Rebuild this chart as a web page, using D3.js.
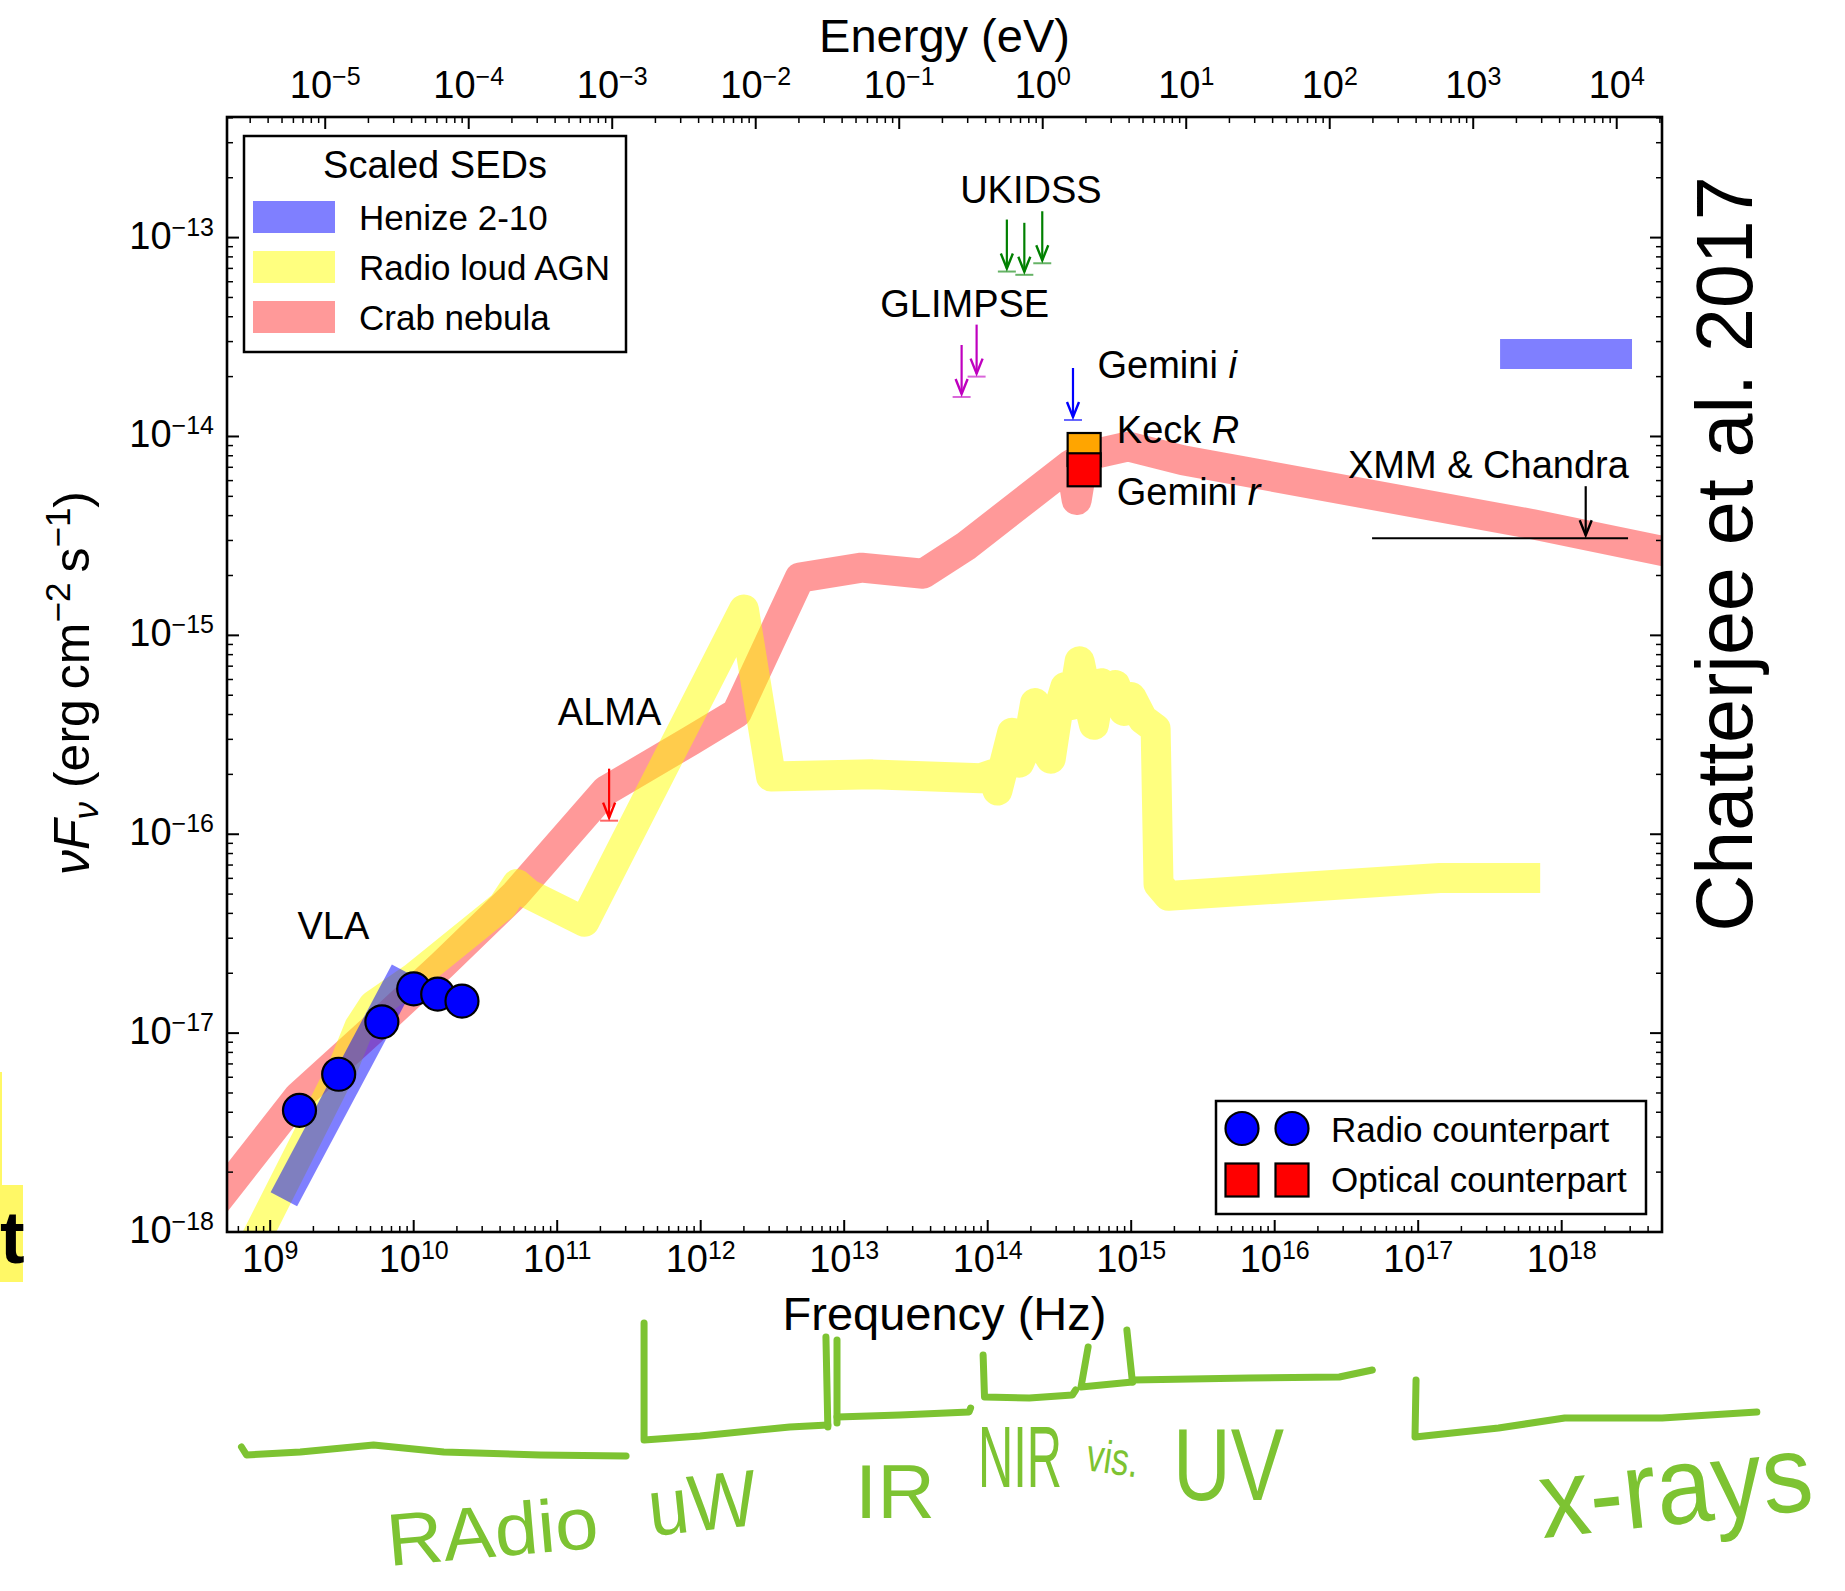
<!DOCTYPE html>
<html>
<head>
<meta charset="utf-8">
<script src="https://cdn.jsdelivr.net/npm/d3@7"></script>
<style>
  body { margin: 0; background: #fff; }
  svg { display: block; }
  text { font-family: "Liberation Sans", Arial, Helvetica, sans-serif; }
</style>
</head>
<body>
<svg id="chart" width="1845" height="1591"></svg>
<script>
// ---------- axis ranges ----------
const nuMin = 5e8, nuMax = 5e18;          // Hz
const fMin = 1e-18, fMax = 4.04e-13;      // erg cm^-2 s^-1
const PLANCK_EV = 4.135667e-15;           // eV s

// ---------- scaled SED templates ----------
const crabNu = [3.98e8, 1.58e9, 5.01e9, 1.58e10, 5.13e10, 2.19e11, 8.51e11, 1.78e12, 4.90e12,
                1.32e13, 3.55e13, 7.08e13, 3.80e14, 4.17e14, 4.68e14, 9.55e14, 2.29e15, 6.17e17, 6.31e18];
const crabF  = [1.35e-18, 4.80e-18, 1.02e-17, 2.20e-17, 5.01e-17, 1.66e-16, 2.95e-16, 4.07e-16, 1.95e-15,
                2.19e-15, 2.04e-15, 2.82e-15, 7.24e-15, 4.79e-15, 7.94e-15, 8.91e-15, 7.59e-15, 3.63e-15, 2.57e-15];

const agnNu = [5.62e8, 3.31e9, 4.17e9, 5.25e9, 1.0e10, 4.17e10, 5.25e10, 6.31e10, 1.55e11, 2.0e12,
               3.09e12, 1.58e13, 8.91e13, 1.07e14, 1.17e14, 1.29e14, 1.48e14, 1.66e14, 1.91e14, 2.14e14,
               2.40e14, 2.75e14, 3.09e14, 3.47e14, 3.89e14, 4.37e14, 4.90e14, 5.50e14, 6.17e14, 7.08e14,
               7.76e14, 8.91e14, 1.0e15, 1.20e15, 1.48e15, 1.55e15, 1.82e15, 1.41e17, 7.08e17];
const agnF  = [5.62e-19, 7.08e-18, 1.07e-17, 1.38e-17, 1.90e-17, 4.37e-17, 5.62e-17, 5.01e-17, 3.63e-17, 1.35e-15,
               1.95e-16, 2.00e-16, 1.91e-16, 2.00e-16, 1.66e-16, 2.19e-16, 3.24e-16, 2.29e-16, 2.88e-16, 4.57e-16,
               2.82e-16, 2.40e-16, 4.17e-16, 5.50e-16, 4.47e-16, 7.41e-16, 5.01e-16, 3.55e-16, 5.75e-16, 4.68e-16,
               5.62e-16, 4.17e-16, 4.90e-16, 3.80e-16, 3.39e-16, 5.62e-17, 4.90e-17, 6.03e-17, 6.03e-17];

const henizeRadioNu = [1.245e9, 8.71e9];
const henizeRadioF  = [1.46e-18, 2.04e-17];
const henizeXrayNu  = [3.72e17, 3.09e18];
const henizeXrayF   = [2.60e-14, 2.60e-14];

// ---------- counterpart detections ----------
const vlaNu = [1.6e9, 3.0e9, 6.0e9, 1.0e10, 1.47e10, 2.17e10];
const vlaF  = [4.09e-18, 6.21e-18, 1.14e-17, 1.67e-17, 1.57e-17, 1.45e-17];

const opticalBands  = ["Keck R", "Gemini r"];
const opticalNu     = [4.70e14, 4.70e14];
const opticalF      = [8.6e-15, 6.8e-15];
const opticalColors = ["#ffa500", "#ff0000"];

// ---------- upper limits ----------
const limitSurvey = ["ALMA", "GLIMPSE", "GLIMPSE", "UKIDSS", "UKIDSS", "UKIDSS", "Gemini i"];
const limitNu     = [2.30e11, 6.58e13, 8.37e13, 1.36e14, 1.80e14, 2.40e14, 3.93e14];
const limitF      = [1.17e-16, 1.58e-14, 2.0e-14, 6.75e-14, 6.5e-14, 7.43e-14, 1.21e-14];
const limitColor  = {"ALMA": "#ff0000", "GLIMPSE": "#bf00bf", "UKIDSS": "#008000", "Gemini i": "#0000ff"};

const xrayBandNu   = [4.77e16, 2.9e18];
const xrayLimitNu  = 1.47e18;
const xrayLimitF   = 3.08e-15;

// ---------- ticks ----------
const freqTickExp   = [9, 10, 11, 12, 13, 14, 15, 16, 17, 18];
const energyTickExp = [-5, -4, -3, -2, -1, 0, 1, 2, 3, 4];
const fluxTickExp   = [-18, -17, -16, -15, -14, -13];

// ---------- text annotations (anchored in data space) ----------
const notes = [
  {t: "UKIDSS",  nu: 2.0e14,  f: 1.50e-13, anchor: "middle"},
  {t: "GLIMPSE", nu: 6.92e13, f: 3.98e-14, anchor: "middle"},
  {t: "Gemini ", it: "i", nu: 5.82e14, f: 1.96e-14, anchor: "start"},
  {t: "Keck ",   it: "R", nu: 7.94e14, f: 9.25e-15, anchor: "start"},
  {t: "Gemini ", it: "r", nu: 7.94e14, f: 4.52e-15, anchor: "start"},
  {t: "XMM & Chandra", nu: 3.24e16, f: 6.17e-15, anchor: "start"},
  {t: "ALMA",    nu: 1.01e11, f: 3.54e-16, anchor: "start"},
  {t: "VLA",     nu: 1.55e9,  f: 2.99e-17, anchor: "start"}
];

// ---------- layout ----------
const L = 227, R = 1662, T = 117, B = 1232;
const svg = d3.select("#chart");
const x  = d3.scaleLog().domain([nuMin, nuMax]).range([L, R]);
const xE = d3.scaleLog().domain([nuMin * PLANCK_EV, nuMax * PLANCK_EV]).range([L, R]);
const y  = d3.scaleLog().domain([fMin, fMax]).range([B, T]);

svg.append("defs").append("clipPath").attr("id", "plotClip")
  .append("rect").attr("x", L).attr("y", T).attr("width", R - L).attr("height", B - T);

const plot = svg.append("g").attr("clip-path", "url(#plotClip)");
const zip = (a, b) => a.map((v, i) => [v, b[i]]);
const line = d3.line().x(d => x(d[0])).y(d => y(d[1]));

function band(nu, f, color, opacity) {
  plot.append("path")
    .attr("d", line(zip(nu, f)))
    .attr("fill", "none")
    .attr("stroke", color)
    .attr("stroke-opacity", opacity)
    .attr("stroke-width", 30)
    .attr("stroke-linejoin", "round")
    .attr("stroke-linecap", "butt");
}
band(crabNu, crabF, "#ff0000", 0.4);
band(agnNu, agnF, "#ffff00", 0.5);
band(henizeRadioNu, henizeRadioF, "#0000ff", 0.5);
band(henizeXrayNu, henizeXrayF, "#0000ff", 0.5);

// ---------- upper-limit arrows ----------
function downArrow(g, px, py, color) {
  g.append("line").attr("x1", px).attr("x2", px).attr("y1", py - 52).attr("y2", py - 3)
    .attr("stroke", color).attr("stroke-width", 2.2);
  g.append("path").attr("d", `M${px - 6},${py - 18}L${px},${py - 3}L${px + 6},${py - 18}`)
    .attr("fill", "none").attr("stroke", color).attr("stroke-width", 2.4).attr("stroke-linejoin", "miter");
}
const limits = svg.append("g");
limitNu.forEach((nu, i) => {
  const c = limitColor[limitSurvey[i]];
  const px = x(nu), py = y(limitF[i]);
  limits.append("line").attr("x1", px - 9).attr("x2", px + 9).attr("y1", py).attr("y2", py)
    .attr("stroke", c).attr("stroke-opacity", 0.6).attr("stroke-width", 2);
  downArrow(limits, px, py, c);
});
limits.append("line")
  .attr("x1", x(xrayBandNu[0])).attr("x2", x(xrayBandNu[1]))
  .attr("y1", y(xrayLimitF)).attr("y2", y(xrayLimitF))
  .attr("stroke", "#000").attr("stroke-width", 2);
downArrow(limits, x(xrayLimitNu), y(xrayLimitF), "#000");

// ---------- detections ----------
const SQ = 33;
svg.append("g").selectAll("rect").data(opticalNu).join("rect")
  .attr("x", d => x(d) - SQ / 2)
  .attr("y", (d, i) => y(opticalF[i]) - SQ / 2)
  .attr("width", SQ).attr("height", SQ)
  .attr("fill", (d, i) => opticalColors[i])
  .attr("stroke", "#000").attr("stroke-width", 2.2);

svg.append("g").selectAll("circle").data(vlaNu).join("circle")
  .attr("cx", d => x(d))
  .attr("cy", (d, i) => y(vlaF[i]))
  .attr("r", 16.5)
  .attr("fill", "#0000ff").attr("stroke", "#000").attr("stroke-width", 2.2);

// ---------- annotations ----------
const noteG = svg.append("g").attr("font-size", 38).attr("fill", "#000");
notes.forEach(n => {
  const t = noteG.append("text").attr("x", x(n.nu)).attr("y", y(n.f)).attr("text-anchor", n.anchor);
  t.append("tspan").text(n.t);
  if (n.it) t.append("tspan").attr("font-style", "italic").text(n.it);
});

// ---------- frame and ticks ----------
function tickList(scale) {
  const [a, b] = scale.domain();
  const out = [];
  for (let e = Math.floor(Math.log10(a)); e <= Math.ceil(Math.log10(b)); e++) {
    for (let m = 1; m < 10; m++) {
      const v = m * Math.pow(10, e);
      if (v >= a * 0.9999 && v <= b * 1.0001) out.push({v, major: m === 1});
    }
  }
  return out;
}
const axes = svg.append("g").attr("stroke", "#000");
tickList(x).forEach(t => {
  const len = t.major ? 12 : 6, w = t.major ? 2 : 1.5;
  axes.append("line").attr("x1", x(t.v)).attr("x2", x(t.v)).attr("y1", B).attr("y2", B - len).attr("stroke-width", w);
});
tickList(xE).forEach(t => {
  const len = t.major ? 12 : 6, w = t.major ? 2 : 1.5;
  axes.append("line").attr("x1", xE(t.v)).attr("x2", xE(t.v)).attr("y1", T).attr("y2", T + len).attr("stroke-width", w);
});
tickList(y).forEach(t => {
  const len = t.major ? 12 : 6, w = t.major ? 2 : 1.5;
  axes.append("line").attr("y1", y(t.v)).attr("y2", y(t.v)).attr("x1", L).attr("x2", L + len).attr("stroke-width", w);
  axes.append("line").attr("y1", y(t.v)).attr("y2", y(t.v)).attr("x1", R).attr("x2", R - len).attr("stroke-width", w);
});
svg.append("rect").attr("x", L).attr("y", T).attr("width", R - L).attr("height", B - T)
  .attr("fill", "none").attr("stroke", "#000").attr("stroke-width", 2.6);

function powerLabel(g, px, py, exp, anchor) {
  const t = g.append("text").attr("x", px).attr("y", py).attr("text-anchor", anchor).attr("font-size", 38);
  t.append("tspan").text("10");
  t.append("tspan").attr("font-size", 25).attr("dy", -13).text(exp < 0 ? "\u2212" + (-exp) : String(exp));
}
const labels = svg.append("g").attr("fill", "#000");
freqTickExp.forEach(e => powerLabel(labels, x(Math.pow(10, e)), 1272, e, "middle"));
energyTickExp.forEach(e => powerLabel(labels, xE(Math.pow(10, e)), 98, e, "middle"));
fluxTickExp.forEach(e => powerLabel(labels, 214, y(Math.pow(10, e)) + 11, e, "end"));

// axis titles
svg.append("text").attr("x", (L + R) / 2).attr("y", 52).attr("text-anchor", "middle").attr("font-size", 47).text("Energy (eV)");
svg.append("text").attr("x", (L + R) / 2).attr("y", 1330).attr("text-anchor", "middle").attr("font-size", 47).text("Frequency (Hz)");
const yl = svg.append("text").attr("transform", "translate(89,683) rotate(-90)")
  .attr("text-anchor", "middle").attr("font-size", 50);
yl.append("tspan").attr("font-style", "italic").text("\u03bdF");
yl.append("tspan").attr("font-style", "italic").attr("font-size", 35).attr("dy", 9).text("\u03bd");
yl.append("tspan").attr("dy", -9).text(" (erg\u2009cm");
yl.append("tspan").attr("font-size", 35).attr("dy", -19).text("\u22122");
yl.append("tspan").attr("dy", 19).text("\u2009s");
yl.append("tspan").attr("font-size", 35).attr("dy", -19).text("\u22121");
yl.append("tspan").attr("dy", 19).text(")");

// ---------- legend: scaled SEDs ----------
const sedNames  = ["Henize 2-10", "Radio loud AGN", "Crab nebula"];
const sedColors = ["#0000ff", "#ffff00", "#ff0000"];
const sedAlpha  = [0.5, 0.5, 0.4];
const lg1 = svg.append("g");
lg1.append("rect").attr("x", 244).attr("y", 136).attr("width", 382).attr("height", 216)
  .attr("fill", "#fff").attr("stroke", "#000").attr("stroke-width", 2.5);
lg1.append("text").attr("x", 435).attr("y", 178).attr("text-anchor", "middle").attr("font-size", 38).text("Scaled SEDs");
sedNames.forEach((name, i) => {
  lg1.append("rect").attr("x", 253).attr("y", 201 + i * 50).attr("width", 82).attr("height", 32)
    .attr("fill", sedColors[i]).attr("fill-opacity", sedAlpha[i]);
  lg1.append("text").attr("x", 359).attr("y", 230 + i * 50).attr("font-size", 35).text(name);
});

// ---------- legend: counterparts ----------
const lg2 = svg.append("g");
lg2.append("rect").attr("x", 1216).attr("y", 1101).attr("width", 430).attr("height", 113)
  .attr("fill", "#fff").attr("stroke", "#000").attr("stroke-width", 2.5);
[1242, 1292].forEach(cx => {
  lg2.append("circle").attr("cx", cx).attr("cy", 1128.5).attr("r", 16.5)
    .attr("fill", "#0000ff").attr("stroke", "#000").attr("stroke-width", 2.2);
  lg2.append("rect").attr("x", cx - 16.5).attr("y", 1163.5).attr("width", SQ).attr("height", SQ)
    .attr("fill", "#ff0000").attr("stroke", "#000").attr("stroke-width", 2.2);
});
lg2.append("text").attr("x", 1331).attr("y", 1141.5).attr("font-size", 35).text("Radio counterpart");
lg2.append("text").attr("x", 1331).attr("y", 1191.5).attr("font-size", 35).text("Optical counterpart");

// ---------- citation ----------
svg.append("text").attr("transform", "translate(1752,554) rotate(-90)")
  .attr("text-anchor", "middle").attr("font-size", 79).text("Chatterjee et al. 2017");

// ---------- highlighted fragment at the left margin ----------
svg.append("rect").attr("x", 0).attr("y", 1072).attr("width", 2).attr("height", 113).attr("fill", "#fff866");
svg.append("rect").attr("x", 0).attr("y", 1185).attr("width", 23).attr("height", 97).attr("fill", "#fff866");
svg.append("text").attr("x", 0).attr("y", 1263).attr("font-size", 74).attr("font-weight", "bold").text("t");

// ---------- hand-drawn band brackets below the frequency axis ----------
const ink = "#7dc332";
const inkStrokes = [
  [[6.31e8,215],[6.84e8,223],[1.62e9,220],[5.25e9,213],[1.62e10,220],[7.59e10,223],[3.02e11,224]],
  [[4.03e11,91],[4.03e11,208],[9.89e11,204],[4.17e12,195],[7.69e12,193]],
  [[7.46e12,105],[7.69e12,195]],
  [[8.91e12,108],[8.91e12,191]],
  [[8.91e12,185],[2.45e13,183],[7.41e13,180],[7.6e13,176]],
  [[9.29e13,123],[9.5e13,165],[1.95e14,166],[3.89e14,163],[4.1e14,158]],
  [[5.01e14,115],[4.47e14,155],[1.02e15,150]],
  [[9.33e14,98],[1.02e15,150]],
  [[1.02e15,148],[6.61e15,146],[2.82e16,145],[4.79e16,138]],
  [[9.66e16,148],[9.5e16,205],[3.63e17,196],[1.05e18,186],[5.01e18,186],[2.29e19,180]]
];
const inkLine = d3.line().x(d => x(d[0])).y(d => B + d[1]);
const inkG = svg.append("g");
inkStrokes.forEach(s => inkG.append("path").attr("d", inkLine(s)).attr("fill", "none")
  .attr("stroke", ink).attr("stroke-width", 7).attr("stroke-linecap", "round").attr("stroke-linejoin", "round"));

const scribbles = [
  {t: "RAdio",  x: 389,  y: 1566, size: 74, len: 212, rot: -5},
  {t: "uW",     x: 651,  y: 1536, size: 80, len: 109, rot: -6},
  {t: "IR",     x: 855,  y: 1518, size: 76, len: 80,  rot: 0},
  {t: "NIR",    x: 978,  y: 1487, size: 88, len: 84,  rot: 0},
  {t: "vis.",   x: 1085, y: 1470, size: 46, len: 52,  rot: 8},
  {t: "UV",     x: 1173, y: 1500, size: 102, len: 111, rot: 0},
  {t: "x-rays", x: 1543, y: 1538, size: 110, len: 274, rot: -6}
];
scribbles.forEach(s => inkG.append("text")
  .attr("x", s.x).attr("y", s.y)
  .attr("transform", `rotate(${s.rot},${s.x},${s.y})`)
  .attr("font-family", "DejaVu Sans").attr("font-size", s.size)
  .attr("textLength", s.len).attr("lengthAdjust", "spacingAndGlyphs")
  .attr("fill", ink).text(s.t));
</script>
</body>
</html>
